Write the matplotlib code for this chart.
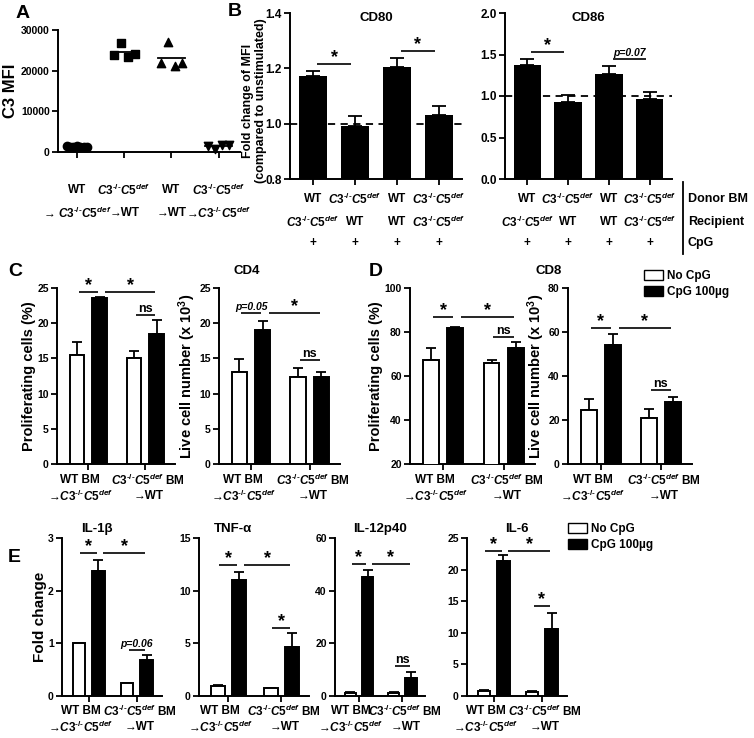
import numpy as np
import matplotlib
matplotlib.use('Agg')
import matplotlib.pyplot as plt
from matplotlib.patches import Patch
from matplotlib.ticker import FormatStrFormatter

plt.rcParams['font.family'] = ['Liberation Sans', 'DejaVu Sans']
plt.rcParams['font.weight'] = 'bold'
plt.rcParams['axes.titleweight'] = 'bold'
plt.rcParams['axes.labelweight'] = 'bold'
plt.rcParams['mathtext.fontset'] = 'custom'
plt.rcParams['mathtext.rm'] = 'Liberation Sans:bold'
plt.rcParams['mathtext.it'] = 'Liberation Sans:italic:bold'
plt.rcParams['mathtext.bf'] = 'Liberation Sans:bold'
plt.rcParams['axes.linewidth'] = 1.4
plt.rcParams['xtick.major.width'] = 1.3
plt.rcParams['ytick.major.width'] = 1.3
plt.rcParams['xtick.major.size'] = 4
plt.rcParams['ytick.major.size'] = 4
plt.rcParams['ytick.major.pad'] = 2

W, H = 754, 738
KO = r'$\mathit{C3}^{\text{-/-}}\mathit{C5}^{\mathit{def}}$'

# ---------------- data ----------------
# panel A: C3 MFI
a_wt_to_ko = [1500, 1350, 1200, 1450, 1250, 1300, 1150]
a_ko_to_wt = [23800, 26900, 23300, 24000]
a_wt_to_wt = [22000, 27000, 21200, 21800]
a_ko_to_ko = [1500, 800, 1600, 1700]
a_top_labels = ['WT', KO, 'WT', KO]
a_bot_labels = [u'\u2192 ' + KO, u'\u2192WT', u'\u2192WT', u'\u2192' + KO]

# panel B: fold change of MFI
b_donor = ['WT', KO, 'WT', KO]
b_recipient = [KO, 'WT', 'WT', KO]
b_cpg = ['+', '+', '+', '+']
cd80 = [1.172, 0.991, 1.205, 1.030]
cd80_err = [0.02, 0.036, 0.034, 0.033]
cd86 = [1.37, 0.93, 1.265, 0.96]
cd86_err = [0.08, 0.08, 0.10, 0.085]

# panels C-E: white = No CpG, black = CpG 100ug
group_top = ['WT BM', KO + ' BM']
group_bot = [u'\u2192' + KO, u'\u2192WT']

c_prolif_white = [15.5, 15.0]
c_prolif_white_err = [1.9, 1.1]
c_prolif_black = [23.6, 18.4]
c_prolif_black_err = [0.15, 2.0]
c_live_white = [13.0, 12.3]
c_live_white_err = [1.95, 1.4]
c_live_black = [19.0, 12.3]
c_live_black_err = [1.3, 0.8]

d_prolif_white = [67.3, 65.8]
d_prolif_white_err = [5.3, 1.5]
d_prolif_black = [81.7, 72.9]
d_prolif_black_err = [0.4, 2.4]
d_live_white = [24.5, 20.8]
d_live_white_err = [4.9, 4.1]
d_live_black = [54.0, 28.3]
d_live_black_err = [5.0, 2.3]

il1b_white = [1.0, 0.24]
il1b_white_err = [0.0, 0.01]
il1b_black = [2.38, 0.68]
il1b_black_err = [0.2, 0.1]
tnf_white = [0.98, 0.73]
tnf_white_err = [0.07, 0.04]
tnf_black = [11.0, 4.68]
tnf_black_err = [0.75, 1.27]
il12_white = [1.3, 1.2]
il12_white_err = [0.3, 0.25]
il12_black = [45.3, 6.7]
il12_black_err = [2.5, 2.3]
il6_white = [0.8, 0.6]
il6_white_err = [0.2, 0.12]
il6_black = [21.4, 10.55]
il6_black_err = [0.9, 2.65]

# significance marks: (bar from, bar to, height, text); bars 0..3 = white1, black1, white2, black2
c_prolif_sig = [(0, 1, 24.4, '*'), (1, 3, 24.4, '*'), (2, 3, 21.2, 'ns')]
c_live_sig = [(0, 1, 21.4, 'p=0.05'), (1, 3, 21.4, '*'), (2, 3, 14.8, 'ns')]
d_prolif_sig = [(0, 1, 86.8, '*'), (1, 3, 86.8, '*'), (2, 3, 77.7, 'ns')]
d_live_sig = [(0, 1, 61.8, '*'), (1, 3, 61.8, '*'), (2, 3, 33.6, 'ns')]
il1b_sig = [(0, 1, 2.72, '*'), (1, 3, 2.72, '*'), (2, 3, 0.87, 'p=0.06')]
tnf_sig = [(0, 1, 12.4, '*'), (1, 3, 12.4, '*'), (2, 3, 6.45, '*')]
il12_sig = [(0, 1, 50.0, '*'), (1, 3, 50.0, '*'), (2, 3, 11.4, 'ns')]
il6_sig = [(0, 1, 22.9, '*'), (1, 3, 22.9, '*'), (2, 3, 14.2, '*')]
cd80_sig = [(0, 1, 1.217, '*'), (2, 3, 1.263, '*')]
cd86_sig = [(0, 1, 1.53, '*'), (2, 3, 1.44, 'p=0.07')]


fig = plt.figure(figsize=(W / 100, H / 100), dpi=100)
all_axes = []


def make_ax(left, right, top, bottom):
    ax = fig.add_axes([left / W, 1 - bottom / H, (right - left) / W, (bottom - top) / H])
    ax.spines['top'].set_visible(False)
    ax.spines['right'].set_visible(False)
    ax.tick_params(labelsize=7.5)
    all_axes.append(ax)
    return ax


def draw_sig(ax, xs, sigs, trim=0.03, cross_gap=0.1):
    for i, j, y, txt in sigs:
        x1 = xs[i] + trim
        x2 = xs[j] - trim
        if j - i > 1:
            x1 = xs[i] + cross_gap
        ax.plot([x1, x2], [y, y], color='k', lw=1.2, solid_capstyle='butt', clip_on=False)
        if txt == '*':
            ax.annotate('*', ((x1 + x2) / 2, y), xytext=(0, -1.5), textcoords='offset points',
                        ha='center', va='bottom', fontsize=13)
        elif txt.startswith('p='):
            ax.annotate(txt, ((x1 + x2) / 2, y), xytext=(0, 1), textcoords='offset points',
                        ha='center', va='bottom', fontsize=7.5, style='italic')
        else:
            ax.annotate(txt, ((x1 + x2) / 2, y), xytext=(0, 0), textcoords='offset points',
                        ha='center', va='bottom', fontsize=9)


def grouped(rect, white, werr, black, berr, ylim, yticks, sigs, ylabel=None,
            lab_dy=(16, 32), lab_size=8.5, ylabel_size=10.5):
    ax = make_ax(*rect)
    groups = np.arange(len(white))
    off, width = 0.2, 0.26
    ax.bar(groups - off, white, width, color='white', edgecolor='k', lw=1.4, zorder=3)
    ax.bar(groups + off, black, width, color='k', edgecolor='k', lw=1.4, zorder=3)
    ax.errorbar(groups - off, white, yerr=[np.zeros(len(white)), werr], fmt='none',
                ecolor='k', elinewidth=1.3, capsize=3.5, capthick=1.3, zorder=2)
    ax.errorbar(groups + off, black, yerr=[np.zeros(len(black)), berr], fmt='none',
                ecolor='k', elinewidth=1.3, capsize=3.5, capthick=1.3, zorder=2)
    ax.set_xlim(-0.55, 1.52)
    ax.set_ylim(*ylim)
    ax.set_yticks(yticks)
    ax.set_xticks(groups)
    ax.set_xticklabels([])
    xs = [groups[0] - off, groups[0] + off, groups[1] - off, groups[1] + off]
    draw_sig(ax, xs, sigs)
    shifts = [-8, 3]
    for g in groups:
        ax.annotate(group_top[g], (g, 0), xycoords=('data', 'axes fraction'),
                    xytext=(shifts[g], -lab_dy[0]), textcoords='offset pixels',
                    ha='center', va='center', fontsize=lab_size)
        ax.annotate(group_bot[g], (g, 0), xycoords=('data', 'axes fraction'),
                    xytext=(shifts[g], -lab_dy[1]), textcoords='offset pixels',
                    ha='center', va='center', fontsize=lab_size)
    if ylabel:
        ax.set_ylabel(ylabel, fontsize=ylabel_size, labelpad=1)
    return ax


# ---------------- panel A ----------------
axA = make_ax(58, 240, 30, 152)
a_sets = [a_wt_to_ko, a_ko_to_wt, a_wt_to_wt, a_ko_to_ko]
a_markers = ['o', 's', '^', 'v']
for k, vals in enumerate(a_sets):
    n = len(vals)
    xs = k + np.linspace(-0.22, 0.22, n)
    axA.scatter(xs, vals, marker=a_markers[k], color='k', s=36, zorder=3, clip_on=False)
    axA.plot([k - 0.28, k + 0.28], [np.mean(vals)] * 2, color='k', lw=1.3)
axA.set_xlim(-0.4, 3.45)
axA.set_ylim(0, 30000)
axA.set_yticks([0, 10000, 20000, 30000])
axA.set_xticks(range(4))
axA.set_xticklabels([])
axA.set_ylabel('C3 MFI', fontsize=12, labelpad=2)
for k in range(4):
    axA.annotate(a_top_labels[k], (k, 0), xycoords=('data', 'axes fraction'),
                 xytext=(0, -38), textcoords='offset pixels', ha='center', va='center', fontsize=8.5)
    axA.annotate(a_bot_labels[k], (k, 0), xycoords=('data', 'axes fraction'),
                 xytext=(0, -61), textcoords='offset pixels', ha='center', va='center', fontsize=8.5)


# ---------------- panel B ----------------
def cd_panel(rect, vals, errs, ylim, yticks, sigs, title):
    ax = make_ax(*rect)
    xs = np.arange(len(vals))
    ax.bar(xs, vals, 0.68, color='k', zorder=3)
    ax.errorbar(xs, vals, yerr=[np.zeros(len(vals)), errs], fmt='none', ecolor='k',
                elinewidth=1.3, capsize=5, capthick=1.3, zorder=2)
    ax.axhline(1.0, color='k', lw=1.3, ls=(0, (4, 3)), zorder=4)
    ax.set_xlim(-0.55, 3.55)
    ax.set_ylim(*ylim)
    ax.set_yticks(yticks)
    ax.yaxis.set_major_formatter(FormatStrFormatter('%.1f'))
    ax.tick_params(axis='y', labelsize=8.5)
    ax.set_xticks(xs)
    ax.set_xticklabels([])
    ax.set_title(title, fontsize=9.5, pad=6, y=0.9)
    draw_sig(ax, list(xs), sigs, trim=0.1)
    for k in xs:
        for row, dy in zip([b_donor, b_recipient, b_cpg], [20, 43, 64]):
            ax.annotate(row[k], (k, 0), xycoords=('data', 'axes fraction'),
                        xytext=(0, -dy), textcoords='offset pixels',
                        ha='center', va='center', fontsize=8.5)
    return ax


ax80 = cd_panel((290, 462, 13, 179), cd80, cd80_err, (0.8, 1.4), [0.8, 1.0, 1.2, 1.4], cd80_sig, 'CD80')
ax80.set_ylabel('Fold change of MFI\n(compared to unstimulated)', fontsize=9, labelpad=1,
                linespacing=1.1)
ax80.yaxis.set_label_coords(-0.135, 0.47)
ax86 = cd_panel((505, 672, 13, 179), cd86, cd86_err, (0, 2.0), [0, 0.5, 1.0, 1.5, 2.0], cd86_sig, 'CD86')

row_names = ['Donor BM', 'Recipient', 'CpG']
for name, y in zip(row_names, [199, 222, 243]):
    fig.text(688 / W, 1 - y / H, name, ha='left', va='center', fontsize=9)
fig.add_artist(plt.Line2D([683 / W, 683 / W], [1 - 182 / H, 1 - 254 / H], color='k', lw=1.3))

# ---------------- panel C ----------------
grouped((57, 175, 288, 464), c_prolif_white, c_prolif_white_err, c_prolif_black, c_prolif_black_err,
        (0, 25), [0, 5, 10, 15, 20, 25], c_prolif_sig, ylabel='Proliferating cells (%)')
grouped((219, 340, 288, 464), c_live_white, c_live_white_err, c_live_black, c_live_black_err,
        (0, 25), [0, 5, 10, 15, 20, 25], c_live_sig, ylabel=r'Live cell number (x 10$^{3}$)')
fig.text(247 / W, 1 - 271 / H, 'CD4', ha='center', va='center', fontsize=9.5)

# ---------------- panel D ----------------
grouped((410, 535, 288, 464), d_prolif_white, d_prolif_white_err, d_prolif_black, d_prolif_black_err,
        (20, 100), [20, 40, 60, 80, 100], d_prolif_sig, ylabel='Proliferating cells (%)')
grouped((568, 692, 288, 464), d_live_white, d_live_white_err, d_live_black, d_live_black_err,
        (0, 80), [0, 20, 40, 60, 80], d_live_sig, ylabel=r'Live cell number (x 10$^{3}$)')
fig.text(549 / W, 1 - 271 / H, 'CD8', ha='center', va='center', fontsize=9.5)

# ---------------- panel E ----------------
e_dy = (15, 31)
axE1 = grouped((62, 162, 538, 696), il1b_white, il1b_white_err, il1b_black, il1b_black_err,
               (0, 3), [0, 1, 2, 3], il1b_sig, ylabel='Fold change', lab_dy=e_dy, ylabel_size=11)
axE2 = grouped((199, 309, 538, 696), tnf_white, tnf_white_err, tnf_black, tnf_black_err,
               (0, 15), [0, 5, 10, 15], tnf_sig, lab_dy=e_dy)
axE3 = grouped((335, 425, 538, 696), il12_white, il12_white_err, il12_black, il12_black_err,
               (0, 60), [0, 20, 40, 60], il12_sig, lab_dy=e_dy)
axE4 = grouped((467, 567, 538, 696), il6_white, il6_white_err, il6_black, il6_black_err,
               (0, 25), [0, 5, 10, 15, 20, 25], il6_sig, lab_dy=e_dy)
e_titles = [u'IL-1\u03b2', u'TNF-\u03b1', 'IL-12p40', 'IL-6']
e_title_x = [0.35, 0.31, 0.5, 0.5]
for ax, t, tx in zip([axE1, axE2, axE3, axE4], e_titles, e_title_x):
    ax.set_title(t, fontsize=9.5, pad=4, x=tx)

# legends
leg_handles = [Patch(facecolor='white', edgecolor='k', lw=1), Patch(facecolor='k', edgecolor='k')]
leg_labels = ['No CpG', u'CpG 100\u00b5g']
for lx, ly in [(638, 264), (562, 517)]:
    fig.legend(leg_handles, leg_labels, loc='upper left', bbox_to_anchor=(lx / W, 1 - ly / H),
               frameon=False, fontsize=8.5, borderpad=0, handlelength=1.6, handleheight=0.95,
               handletextpad=0.35, labelspacing=0.35)

# panel letters
for letter, x, y in [('A', 16, 14), ('B', 228, 12), ('C', 8, 272), ('D', 369, 272), ('E', 8, 557)]:
    fig.text(x / W, 1 - y / H, letter, ha='left', va='center', fontsize=14)

for ax in all_axes:
    for lab in ax.get_yticklabels():
        lab.set_fontweight('bold')

fig.savefig('out.png', dpi=100)
